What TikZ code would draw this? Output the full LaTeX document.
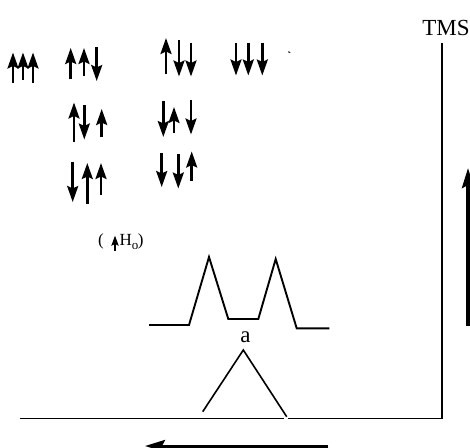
\documentclass[tikz,border=0pt]{standalone}
\usepackage{fontspec}
\setmainfont{Liberation Serif}
\usetikzlibrary{arrows.meta}
\tikzset{
  spin/.style={line width=2.5pt, -{Stealth[length=16pt,width=11pt,inset=2.5pt]}},
  curve/.style={line width=1.9pt, line join=miter},
  axis/.style={line width=1.5pt},
  bigarrow/.style={line width=3pt, -{Stealth[length=20pt,width=12pt,inset=3pt]}},
  lbl/.style={inner sep=0pt, font=\fontsize{23}{25}\selectfont}
}
\newcommand{\spinup}[3]{\draw[spin] (#1,#2) -- (#1,#3);}
\begin{document}
\begin{tikzpicture}[x=1pt,y=-1pt]
\useasboundingbox (0,0) rectangle (470,447);
\clip (0,0) rectangle (470,447);
% row 1
\spinup{13}{83}{52.5}
\spinup{23}{79.5}{52.5}
\spinup{33}{83}{52.5}
\spinup{70.7}{79.3}{48}
\spinup{84}{76}{48}
\spinup{96.7}{46.5}{81}
\spinup{166}{74}{38}
\spinup{179}{40}{76.5}
\spinup{191}{42.5}{76.5}
\spinup{236}{42.5}{75.5}
\spinup{248.3}{42.5}{75.5}
\spinup{262.3}{42.5}{75.5}
\draw[line width=0.9pt] (288.3,51.8) -- (290.3,52.5);
% row 2
\spinup{74}{141.7}{102.5}
\spinup{84.3}{105}{139.5}
\spinup{101.7}{137.3}{109}
\spinup{163.3}{100.5}{137}
\spinup{174}{132.7}{107}
\spinup{191}{100}{134.5}
% row 3
\spinup{72.7}{161.5}{202}
\spinup{87.3}{204}{163}
\spinup{101}{195}{163}
\spinup{161.7}{153}{187}
\spinup{178.3}{154}{188.5}
\spinup{191.7}{181}{151.5}
% H_o label
\node[lbl, font=\fontsize{17}{19}\selectfont, anchor=base] (lp) at (101,245.5) {(};
\draw[line width=2.2pt, -{Stealth[length=10pt,width=7pt,inset=1.5pt]}] (115,251) -- (115,235.5);
\node[lbl, font=\fontsize{17}{19}\selectfont, anchor=base west] (ho) at (119.5,245.5) {H\raisebox{-0.45ex}{\fontsize{13}{14}\selectfont o}\kern-0.5pt)};
% spectrum
\coordinate (s0) at (149,325);
\coordinate (s1) at (189,325);
\coordinate (p1) at (209,257);
\coordinate (s2) at (228.3,319);
\coordinate (s3) at (258.3,319);
\coordinate (p2) at (275.7,259);
\coordinate (s4) at (296.7,328.3);
\coordinate (s5) at (329.3,328.3);
\draw[curve] (s0) -- (s1) -- (p1) -- (s2) -- (s3) -- (p2) -- (s4) -- (s5);
% single peak
\node[lbl, anchor=base] (a) at (245.5,342.5) {a};
\coordinate (t0) at (202.7,411.7);
\coordinate (t1) at (243.3,350);
\coordinate (t2) at (286.7,416.7);
\draw[line width=1.6pt] (t0) -- (t1) -- (t2);
% axes
\coordinate (x0) at (20,418.7);
\coordinate (xg1) at (283.5,418.7);
\coordinate (xg2) at (287.5,418.7);
\coordinate (corner) at (442,418.7);
\coordinate (ytop) at (442,43);
\draw[axis] (x0) -- (xg1);
\draw[axis] (xg2) -- (corner) -- (ytop);
\node[lbl, anchor=base] (tms) at (446,35) {TMS};
% direction arrows
\coordinate (b0) at (328.3,446);
\coordinate (b1) at (145,446);
\draw[bigarrow] (b0) -- (b1);
\coordinate (r0) at (468,326);
\coordinate (r1) at (468,168);
\draw[bigarrow, line width=3.5pt] (r0) -- (r1);
\end{tikzpicture}
\end{document}
